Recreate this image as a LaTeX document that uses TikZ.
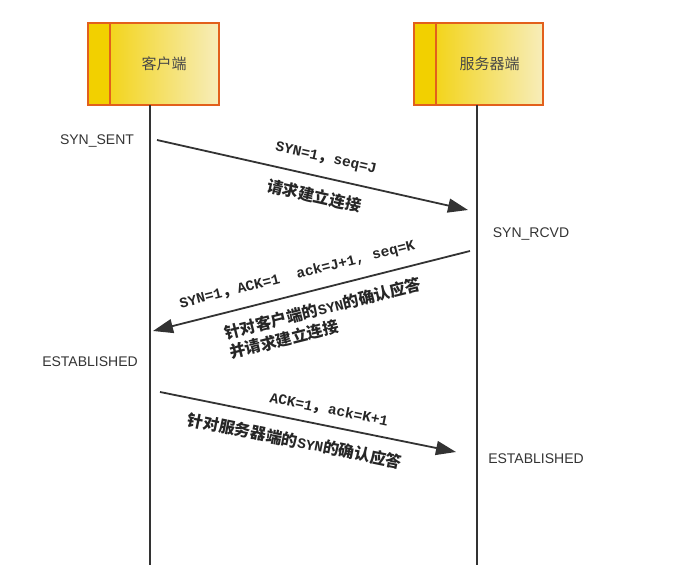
\documentclass[tikz,border=0pt]{standalone}
\usepackage{fontspec}
\setmainfont{Liberation Sans}
\newfontfamily\cjk{Noto Sans CJK SC}
\newfontfamily\mono{Liberation Mono}
\usetikzlibrary{arrows.meta,positioning}
\definecolor{boxgold}{HTML}{F2D000}
\definecolor{boxpale}{HTML}{F7EDBA}
\definecolor{boxline}{HTML}{E2601C}
\definecolor{msgline}{HTML}{333333}
\tikzset{party/.style = {draw=boxline, line width=2pt, rectangle, outer sep=0pt, minimum height=82pt, minimum width=109pt, left color=boxgold!85!boxpale, right color=boxpale, font=\cjk\fontsize{15}{17}\selectfont, text=black!72},
         bar/.style = {draw=boxline, line width=2pt, rectangle, outer sep=0pt, minimum height=82pt, minimum width=22pt, fill=boxgold},
         life/.style = {draw=msgline, line width=1.6pt},
         msg/.style = {draw=msgline, line width=1.8pt, -{Triangle[length=20pt,width=14pt]}},
         state/.style = {font=\fontsize{14}{16}\selectfont, text=black!80},
         lbl/.style = {font=\mono\bfseries\fontsize{14.5}{20}\selectfont, text=black!85, sloped},
}
\newcommand{\zh}[1]{{\cjk\fontsize{16}{20}\selectfont #1}}

\begin{document}
\begin{tikzpicture}[x=1pt, y=-1pt]
  \useasboundingbox (0,0) rectangle (681,585);

  % the two ends
  \node[party] (client) at (164,64) {客户端};
  \node[bar, left=0pt of client] (clientbar) {};
  \node[party, minimum width=107pt] (server) at (489.5,64) {服务器端};
  \node[bar, left=0pt of server] (serverbar) {};

  \coordinate (clientend) at (150,565);
  \coordinate (serverend) at (477,565);
  \draw[life] (client.south -| clientend) -- (clientend);
  \draw[life] (server.south -| serverend) -- (serverend);

  % states
  \node[state] (synsent) at (97,141) {SYN\_SENT};
  \node[state] (synrcvd) at (531,234) {SYN\_RCVD};
  \node[state] (estc) at (90,362) {ESTABLISHED};
  \node[state] (ests) at (536,459) {ESTABLISHED};

  % messages
  \coordinate (c1) at (157,140);
  \coordinate (s1) at (468,210);
  \coordinate (s2) at (470,251);
  \coordinate (c2) at (153,331);
  \coordinate (c3) at (160,392);
  \coordinate (s3) at (456,452);

  \draw[msg] (c1) -- node[lbl, above=8pt, pos=.53] {SYN=1\zh{，}seq=J}
                     node[lbl, below=8pt, pos=.52] {\zh{请求建立连接}} (s1);
  \draw[msg] (s2) -- node[lbl, above=8pt, pos=.53] {SYN=1\zh{，}ACK=1 \ ack=J+1, seq=K}
                     node[lbl, below=8pt, pos=.48, align=left] {\zh{针对客户端的}SYN\zh{的确认应答}\\\zh{并请求建立连接}} (c2);
  \draw[msg] (c3) -- node[lbl, above=5pt, pos=.56] {ACK=1\zh{，}ack=K+1}
                     node[lbl, below=9pt, pos=.47] {\zh{针对服务器端的}SYN\zh{的确认应答}} (s3);

\end{tikzpicture}
\end{document}
